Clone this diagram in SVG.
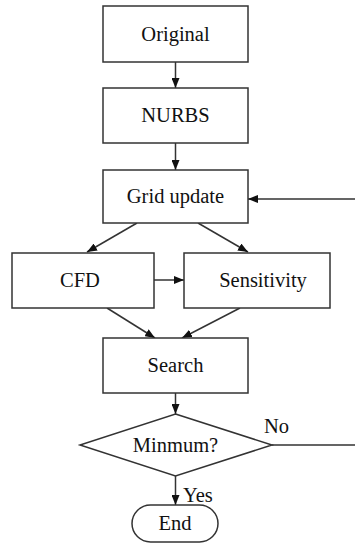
<svg xmlns="http://www.w3.org/2000/svg" width="355" height="544" viewBox="0 0 355 544">
<style>
.box{fill:#fff;stroke:#333;stroke-width:1.5}
.c{fill:none;stroke:#333;stroke-width:1.5}
text{font-family:"Liberation Serif","Times New Roman",serif;font-size:20.5px;fill:#111;text-anchor:middle}
.l{text-anchor:start}
</style>
<defs>
<marker id="a" markerWidth="10" markerHeight="8" refX="10" refY="4" orient="auto" markerUnits="userSpaceOnUse">
<path d="M0,0 L10,4 L0,8 Z" fill="#111"/>
</marker>
</defs>
<rect width="355" height="544" fill="#fff"/>
<g id="connectors">
<line class="c" x1="175.5" y1="62" x2="175.5" y2="88" marker-end="url(#a)"/>
<line class="c" x1="175.5" y1="143" x2="175.5" y2="170" marker-end="url(#a)"/>
<line class="c" x1="137" y1="223" x2="87" y2="252" marker-end="url(#a)"/>
<line class="c" x1="198" y1="223" x2="248" y2="252" marker-end="url(#a)"/>
<line class="c" x1="154" y1="280" x2="184" y2="280" marker-end="url(#a)"/>
<line class="c" x1="107" y1="308" x2="155" y2="338" marker-end="url(#a)"/>
<line class="c" x1="240" y1="308" x2="182" y2="338" marker-end="url(#a)"/>
<line class="c" x1="175.5" y1="393" x2="175.5" y2="414" marker-end="url(#a)"/>
<line class="c" x1="175.5" y1="476" x2="175.5" y2="505" marker-end="url(#a)"/>
<polyline class="c" points="272,445 357,445 357,199 248,199" marker-end="url(#a)"/>
<text class="l" x="264" y="433">No</text>
<text class="l" x="183" y="502">Yes</text>
</g>
<g id="original"><rect class="box" x="103" y="6" width="145" height="56"/><text x="175.5" y="41">Original</text></g>
<g id="nurbs"><rect class="box" x="103" y="88" width="145" height="55"/><text x="175.5" y="122">NURBS</text></g>
<g id="grid"><rect class="box" x="103" y="170" width="145" height="53"/><text x="175.5" y="203">Grid update</text></g>
<g id="cfd"><rect class="box" x="12" y="253" width="142" height="55"/><text x="80" y="287">CFD</text></g>
<g id="sensitivity"><rect class="box" x="184" y="253" width="146" height="55"/><text x="263" y="287">Sensitivity</text></g>
<g id="search"><rect class="box" x="103" y="338" width="145" height="55"/><text x="175.5" y="372">Search</text></g>
<g id="minimum"><polygon class="box" points="175.5,414 272,445 175.5,476 80,445"/><text x="175.5" y="452">Minmum?</text></g>
<g id="end"><rect class="box" x="132" y="505" width="86" height="37" rx="18.5"/><text x="175" y="530">End</text></g>
</svg>
